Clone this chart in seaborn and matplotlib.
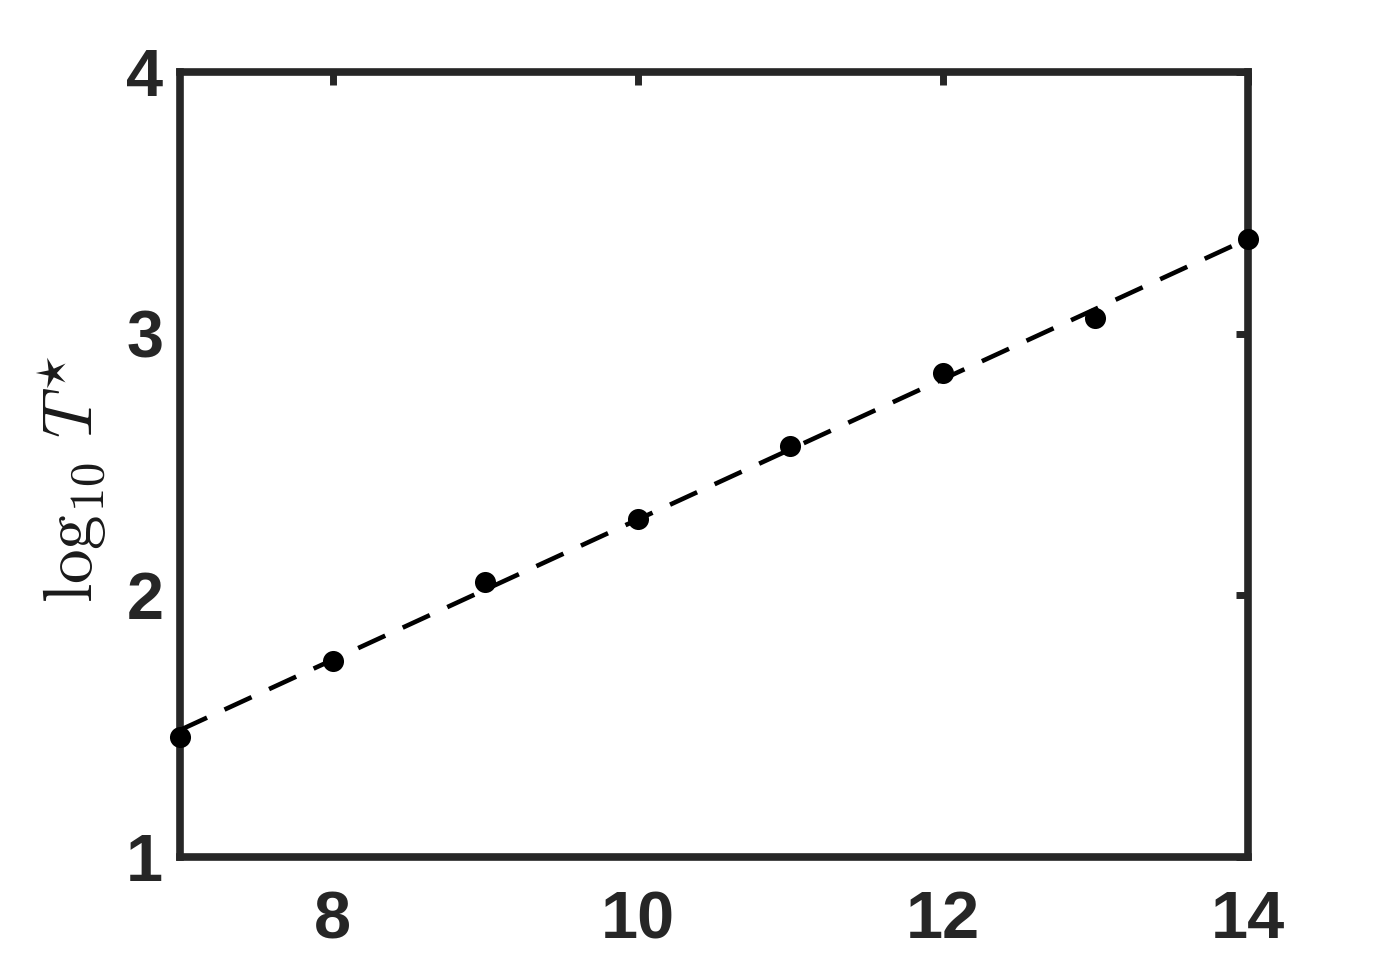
import numpy as np
import pandas as pd
import matplotlib
matplotlib.use("Agg")
import matplotlib.pyplot as plt
import seaborn as sns

# dados
n_vals = [7, 8, 9, 10, 11, 12, 13, 14]
log_t = [1.46, 1.75, 2.05, 2.29, 2.57, 2.85, 3.06, 3.36]
x_ticks = [8, 10, 12, 14]
y_ticks = [1, 2, 3, 4]

sns.set_theme(style="white")
plt.rcParams["font.family"] = ["Liberation Sans", "DejaVu Sans"]
plt.rcParams["mathtext.fontset"] = "cm"

df = pd.DataFrame({"n": n_vals, "logT": log_t})

# ajuste linear
coef = np.polyfit(df["n"], df["logT"], 1)
fit = pd.DataFrame({"n": [n_vals[0], n_vals[-1]]})
fit["logT"] = np.polyval(coef, fit["n"])

fig = plt.figure(figsize=(13.81, 9.64), dpi=100)
ax = fig.add_axes([0.1303, 0.111, 0.7734, 0.8143])

sns.lineplot(data=fit, x="n", y="logT", ax=ax, color="black", lw=3.3,
             linestyle=(0, (6.5, 4.2)), zorder=3)
sns.scatterplot(data=df, x="n", y="logT", ax=ax, color="black", s=230,
                edgecolor="black", linewidth=0, zorder=5, clip_on=False)

ax.set_xlim(7, 14)
ax.set_ylim(1, 4)
ax.set_xticks(x_ticks)
ax.set_yticks(y_ticks)
ax.set_xlabel("")
ax.set_ylabel(r"$\log_{10}\, T^{\star}$", fontsize=50, color="#1a1a1a")
ax.yaxis.set_label_coords(-0.066, 0.482)

for sp in ax.spines.values():
    sp.set_visible(True)
    sp.set_linewidth(5.5)
    sp.set_color("#262626")

ax.tick_params(axis="both", direction="in", length=9, width=5, color="#262626",
               top=True, right=True, labelsize=48, labelcolor="#262626")
ax.tick_params(axis="x", pad=24)
ax.tick_params(axis="y", pad=12)
for lab in ax.get_xticklabels() + ax.get_yticklabels():
    lab.set_fontweight("bold")

fig.savefig("out.png", dpi=100)
